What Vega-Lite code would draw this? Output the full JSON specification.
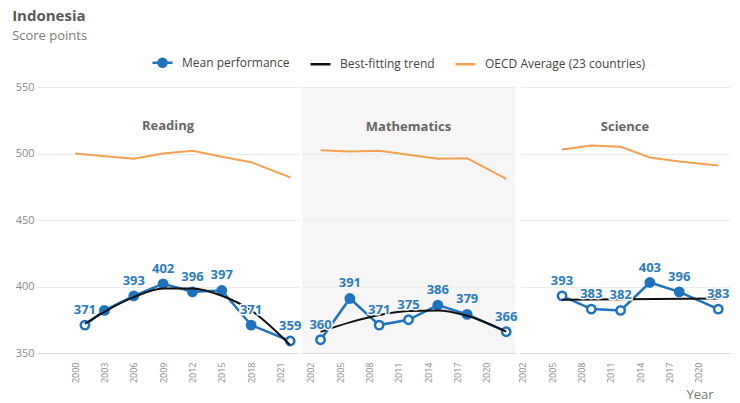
{
  "$schema": "https://vega.github.io/schema/vega-lite/v6.json",
  "background": "white",
  "padding": {"left": 12, "top": 9, "right": 5, "bottom": 0},
  "title": {"text": "Indonesia", "subtitle": "Score points", "anchor": "start", "frame": "bounds", "fontSize": 15, "fontWeight": "bold", "color": "#595959", "subtitleFontSize": 13, "subtitleColor": "#7a7a7a", "subtitlePadding": 6, "offset": 8, "dx": -3, "font": "Open Sans", "subtitleFont": "Open Sans"},
  "datasets": {
    "scores": [
      {"subject": "Reading", "series": "OECD Average (23 countries)", "year": 2000, "value": 500},
      {"subject": "Reading", "series": "OECD Average (23 countries)", "year": 2003, "value": 498},
      {"subject": "Reading", "series": "OECD Average (23 countries)", "year": 2006, "value": 496},
      {"subject": "Reading", "series": "OECD Average (23 countries)", "year": 2009, "value": 500},
      {"subject": "Reading", "series": "OECD Average (23 countries)", "year": 2012, "value": 502},
      {"subject": "Reading", "series": "OECD Average (23 countries)", "year": 2015, "value": 497.5},
      {"subject": "Reading", "series": "OECD Average (23 countries)", "year": 2018, "value": 493.5},
      {"subject": "Reading", "series": "OECD Average (23 countries)", "year": 2022, "value": 482},
      {"subject": "Reading", "series": "Best-fitting trend", "year": 2001, "value": 372},
      {"subject": "Reading", "series": "Best-fitting trend", "year": 2003, "value": 381},
      {"subject": "Reading", "series": "Best-fitting trend", "year": 2006, "value": 392},
      {"subject": "Reading", "series": "Best-fitting trend", "year": 2009, "value": 398.5},
      {"subject": "Reading", "series": "Best-fitting trend", "year": 2012, "value": 398.5},
      {"subject": "Reading", "series": "Best-fitting trend", "year": 2015, "value": 393},
      {"subject": "Reading", "series": "Best-fitting trend", "year": 2018, "value": 382},
      {"subject": "Reading", "series": "Best-fitting trend", "year": 2022, "value": 356},
      {"subject": "Reading", "series": "Mean performance", "year": 2001, "value": 371, "sig": false, "lbl": true},
      {"subject": "Reading", "series": "Mean performance", "year": 2003, "value": 382, "sig": true, "lbl": false},
      {"subject": "Reading", "series": "Mean performance", "year": 2006, "value": 393, "sig": true, "lbl": true},
      {"subject": "Reading", "series": "Mean performance", "year": 2009, "value": 402, "sig": true, "lbl": true},
      {"subject": "Reading", "series": "Mean performance", "year": 2012, "value": 396, "sig": true, "lbl": true},
      {"subject": "Reading", "series": "Mean performance", "year": 2015, "value": 397, "sig": true, "lbl": true},
      {"subject": "Reading", "series": "Mean performance", "year": 2018, "value": 371, "sig": true, "lbl": true},
      {"subject": "Reading", "series": "Mean performance", "year": 2022, "value": 359, "sig": false, "lbl": true},
      {"subject": "Mathematics", "series": "OECD Average (23 countries)", "year": 2003, "value": 502.5},
      {"subject": "Mathematics", "series": "OECD Average (23 countries)", "year": 2006, "value": 501.5},
      {"subject": "Mathematics", "series": "OECD Average (23 countries)", "year": 2009, "value": 502},
      {"subject": "Mathematics", "series": "OECD Average (23 countries)", "year": 2012, "value": 499},
      {"subject": "Mathematics", "series": "OECD Average (23 countries)", "year": 2015, "value": 496},
      {"subject": "Mathematics", "series": "OECD Average (23 countries)", "year": 2018, "value": 496.5},
      {"subject": "Mathematics", "series": "OECD Average (23 countries)", "year": 2022, "value": 481},
      {"subject": "Mathematics", "series": "Best-fitting trend", "year": 2003, "value": 366},
      {"subject": "Mathematics", "series": "Best-fitting trend", "year": 2006, "value": 373},
      {"subject": "Mathematics", "series": "Best-fitting trend", "year": 2009, "value": 378.5},
      {"subject": "Mathematics", "series": "Best-fitting trend", "year": 2012, "value": 381.5},
      {"subject": "Mathematics", "series": "Best-fitting trend", "year": 2015, "value": 382},
      {"subject": "Mathematics", "series": "Best-fitting trend", "year": 2018, "value": 378},
      {"subject": "Mathematics", "series": "Best-fitting trend", "year": 2022, "value": 366},
      {"subject": "Mathematics", "series": "Mean performance", "year": 2003, "value": 360, "sig": false, "lbl": true},
      {"subject": "Mathematics", "series": "Mean performance", "year": 2006, "value": 391, "sig": true, "lbl": true},
      {"subject": "Mathematics", "series": "Mean performance", "year": 2009, "value": 371, "sig": false, "lbl": true},
      {"subject": "Mathematics", "series": "Mean performance", "year": 2012, "value": 375, "sig": false, "lbl": true},
      {"subject": "Mathematics", "series": "Mean performance", "year": 2015, "value": 386, "sig": true, "lbl": true},
      {"subject": "Mathematics", "series": "Mean performance", "year": 2018, "value": 379, "sig": true, "lbl": true},
      {"subject": "Mathematics", "series": "Mean performance", "year": 2022, "value": 366, "sig": false, "lbl": true},
      {"subject": "Science", "series": "OECD Average (23 countries)", "year": 2006, "value": 503},
      {"subject": "Science", "series": "OECD Average (23 countries)", "year": 2009, "value": 506},
      {"subject": "Science", "series": "OECD Average (23 countries)", "year": 2012, "value": 505},
      {"subject": "Science", "series": "OECD Average (23 countries)", "year": 2015, "value": 497},
      {"subject": "Science", "series": "OECD Average (23 countries)", "year": 2018, "value": 494},
      {"subject": "Science", "series": "OECD Average (23 countries)", "year": 2022, "value": 491},
      {"subject": "Science", "series": "Best-fitting trend", "year": 2006, "value": 390},
      {"subject": "Science", "series": "Best-fitting trend", "year": 2022, "value": 391},
      {"subject": "Science", "series": "Mean performance", "year": 2006, "value": 393, "sig": false, "lbl": true},
      {"subject": "Science", "series": "Mean performance", "year": 2009, "value": 383, "sig": false, "lbl": true},
      {"subject": "Science", "series": "Mean performance", "year": 2012, "value": 382, "sig": false, "lbl": true},
      {"subject": "Science", "series": "Mean performance", "year": 2015, "value": 403, "sig": true, "lbl": true},
      {"subject": "Science", "series": "Mean performance", "year": 2018, "value": 396, "sig": true, "lbl": true},
      {"subject": "Science", "series": "Mean performance", "year": 2022, "value": 383, "sig": false, "lbl": true}
    ]
  },
  "spacing": 0,
  "resolve": {"scale": {"x": "independent", "y": "shared", "color": "shared"}, "axis": {"x": "independent", "y": "independent"}},
  "hconcat": [
    {
      "width": 262, "height": 266,
      "title": {"text": "Reading", "offset": -52},
      "encoding": {
        "x": {"field": "year", "type": "quantitative", "scale": {"domain": [1996.1, 2022.9], "nice": false, "zero": false},
              "axis": {"values": [2000, 2003, 2006, 2009, 2012, 2015, 2018, 2021], "format": "d", "labelAngle": -90, "labelFontSize": 9, "labelPadding": 9, "grid": false, "title": null}},
        "y": {"field": "value", "type": "quantitative", "scale": {"domain": [350, 550], "nice": false, "zero": false},
              "axis": {"values": [350, 400, 450, 500, 550], "labelFontSize": 11, "labelPadding": 3, "domain": false, "title": null, "grid": true}}
      },
      "layer": [
        {"data": {"name": "scores"}, "transform": [{"filter": "datum.subject === 'Reading' && datum.series === 'OECD Average (23 countries)'"}],
         "mark": {"type": "line", "strokeWidth": 2},
         "encoding": {"color": {"field": "series", "type": "nominal",
            "scale": {"domain": ["Mean performance", "Best-fitting trend", "OECD Average (23 countries)"], "range": ["#1f72bf", "#111111", "#f4a04e"]},
            "legend": {"orient": "none", "direction": "horizontal", "legendX": 114, "legendY": -36, "title": null, "labelFontSize": 12, "labelOffset": 8, "labelColor": "#444", "symbolSize": 400, "symbolStrokeWidth": 2.5, "columnPadding": 15, "symbolType": "stroke",
              "encode": {"symbols": {"update": {
                "shape": {"signal": "datum.value === 'Mean performance' ? 'M-1,0L1,0M-0.4,0a0.4,0.4 0 1,0 0.8,0a0.4,0.4 0 1,0 -0.8,0' : 'M-1,0L1,0'"},
                "fill": {"signal": "datum.value === 'Mean performance' ? '#1f72bf' : 'transparent'"}}}}}}}},
        {"data": {"name": "scores"}, "transform": [{"filter": "datum.subject === 'Reading' && datum.series === 'Mean performance'"}],
         "mark": {"type": "line", "strokeWidth": 2.5}, "encoding": {"color": {"field": "series", "type": "nominal"}}},
        {"data": {"name": "scores"}, "transform": [{"filter": "datum.subject === 'Reading' && datum.series === 'Mean performance'"}],
         "mark": {"type": "point", "shape": "circle", "size": 70, "stroke": "#1f72bf", "strokeWidth": 2.5, "opacity": 1},
         "encoding": {"fill": {"condition": {"test": "datum.sig", "value": "#1f72bf"}, "value": "white"}}},
        {"data": {"name": "scores"}, "transform": [{"filter": "datum.subject === 'Reading' && datum.series === 'Best-fitting trend'"}],
         "mark": {"type": "line", "strokeWidth": 2, "interpolate": "monotone"}, "encoding": {"color": {"field": "series", "type": "nominal"}}},
        {"data": {"name": "scores"}, "transform": [{"filter": "datum.subject === 'Reading' && datum.series === 'Mean performance' && datum.lbl"}],
         "mark": {"type": "text", "dy": -15, "fontSize": 13, "fontWeight": "bold", "stroke": "white", "strokeWidth": 3, "fill": "white"},
         "encoding": {"text": {"field": "value", "type": "quantitative"}}},
        {"data": {"name": "scores"}, "transform": [{"filter": "datum.subject === 'Reading' && datum.series === 'Mean performance' && datum.lbl"}],
         "mark": {"type": "text", "dy": -15, "fontSize": 13, "fontWeight": "bold", "color": "#2a7bc4"},
         "encoding": {"text": {"field": "value", "type": "quantitative"}}}
      ]
    },
    {
      "width": 213, "height": 266,
      "title": {"text": "Mathematics", "offset": -47},
      "view": {"fill": "#f6f6f6"},
      "encoding": {
        "x": {"field": "year", "type": "quantitative", "scale": {"domain": [2001.1, 2022.9], "nice": false, "zero": false},
              "axis": {"values": [2002, 2005, 2008, 2011, 2014, 2017, 2020], "format": "d", "labelAngle": -90, "labelFontSize": 9, "labelPadding": 9, "grid": false, "title": null}},
        "y": {"field": "value", "type": "quantitative",
              "axis": {"values": [350, 400, 450, 500, 550], "labels": false, "domain": false, "title": null, "grid": true}}
      },
      "layer": [
        {"data": {"name": "scores"}, "transform": [{"filter": "datum.subject === 'Mathematics' && datum.series === 'OECD Average (23 countries)'"}],
         "mark": {"type": "line", "strokeWidth": 2}, "encoding": {"color": {"field": "series", "type": "nominal"}}},
        {"data": {"name": "scores"}, "transform": [{"filter": "datum.subject === 'Mathematics' && datum.series === 'Mean performance'"}],
         "mark": {"type": "line", "strokeWidth": 2.5}, "encoding": {"color": {"field": "series", "type": "nominal"}}},
        {"data": {"name": "scores"}, "transform": [{"filter": "datum.subject === 'Mathematics' && datum.series === 'Mean performance'"}],
         "mark": {"type": "point", "shape": "circle", "size": 70, "stroke": "#1f72bf", "strokeWidth": 2.5, "opacity": 1},
         "encoding": {"fill": {"condition": {"test": "datum.sig", "value": "#1f72bf"}, "value": "white"}}},
        {"data": {"name": "scores"}, "transform": [{"filter": "datum.subject === 'Mathematics' && datum.series === 'Best-fitting trend'"}],
         "mark": {"type": "line", "strokeWidth": 2, "interpolate": "monotone"}, "encoding": {"color": {"field": "series", "type": "nominal"}}},
        {"data": {"name": "scores"}, "transform": [{"filter": "datum.subject === 'Mathematics' && datum.series === 'Mean performance' && datum.lbl"}],
         "mark": {"type": "text", "dy": -15, "fontSize": 13, "fontWeight": "bold", "stroke": "#f6f6f6", "strokeWidth": 3, "fill": "#f6f6f6"},
         "encoding": {"text": {"field": "value", "type": "quantitative"}}},
        {"data": {"name": "scores"}, "transform": [{"filter": "datum.subject === 'Mathematics' && datum.series === 'Mean performance' && datum.lbl"}],
         "mark": {"type": "text", "dy": -15, "fontSize": 13, "fontWeight": "bold", "color": "#2a7bc4"},
         "encoding": {"text": {"field": "value", "type": "quantitative"}}}
      ]
    },
    {
      "width": 210, "height": 266,
      "title": {"text": "Science", "offset": -47},
      "encoding": {
        "x": {"field": "year", "type": "quantitative", "scale": {"domain": [2001.7, 2023.2], "nice": false, "zero": false},
              "axis": {"values": [2002, 2005, 2008, 2011, 2014, 2017, 2020], "format": "d", "labelAngle": -90, "labelFontSize": 9, "labelPadding": 9, "grid": false, "title": "Year", "titleX": 193, "titleAlign": "right", "titleFontSize": 13, "titleFontWeight": "normal", "titleColor": "#777", "titlePadding": 6}},
        "y": {"field": "value", "type": "quantitative",
              "axis": {"values": [350, 400, 450, 500, 550], "labels": false, "domain": false, "title": null, "grid": true}}
      },
      "layer": [
        {"data": {"name": "scores"}, "transform": [{"filter": "datum.subject === 'Science' && datum.series === 'OECD Average (23 countries)'"}],
         "mark": {"type": "line", "strokeWidth": 2}, "encoding": {"color": {"field": "series", "type": "nominal"}}},
        {"data": {"name": "scores"}, "transform": [{"filter": "datum.subject === 'Science' && datum.series === 'Mean performance'"}],
         "mark": {"type": "line", "strokeWidth": 2.5}, "encoding": {"color": {"field": "series", "type": "nominal"}}},
        {"data": {"name": "scores"}, "transform": [{"filter": "datum.subject === 'Science' && datum.series === 'Mean performance'"}],
         "mark": {"type": "point", "shape": "circle", "size": 70, "stroke": "#1f72bf", "strokeWidth": 2.5, "opacity": 1},
         "encoding": {"fill": {"condition": {"test": "datum.sig", "value": "#1f72bf"}, "value": "white"}}},
        {"data": {"name": "scores"}, "transform": [{"filter": "datum.subject === 'Science' && datum.series === 'Best-fitting trend'"}],
         "mark": {"type": "line", "strokeWidth": 2}, "encoding": {"color": {"field": "series", "type": "nominal"}}},
        {"data": {"name": "scores"}, "transform": [{"filter": "datum.subject === 'Science' && datum.series === 'Mean performance' && datum.lbl"}],
         "mark": {"type": "text", "dy": -15, "fontSize": 13, "fontWeight": "bold", "stroke": "white", "strokeWidth": 3, "fill": "white"},
         "encoding": {"text": {"field": "value", "type": "quantitative"}}},
        {"data": {"name": "scores"}, "transform": [{"filter": "datum.subject === 'Science' && datum.series === 'Mean performance' && datum.lbl"}],
         "mark": {"type": "text", "dy": -15, "fontSize": 13, "fontWeight": "bold", "color": "#2a7bc4"},
         "encoding": {"text": {"field": "value", "type": "quantitative"}}}
      ]
    }
  ],
  "config": {
    "font": "Open Sans",
    "view": {"stroke": null},
    "title": {"fontSize": 13, "fontWeight": "bold", "color": "#666", "anchor": "middle", "font": "Open Sans"},
    "axis": {"gridColor": "#ebebeb", "domainColor": "#dddddd", "labelColor": "#8a8a8a", "ticks": false, "tickSize": 0, "labelFont": "Open Sans", "titleFont": "Open Sans"},
    "legend": {"labelFont": "Open Sans"}
  }
}
